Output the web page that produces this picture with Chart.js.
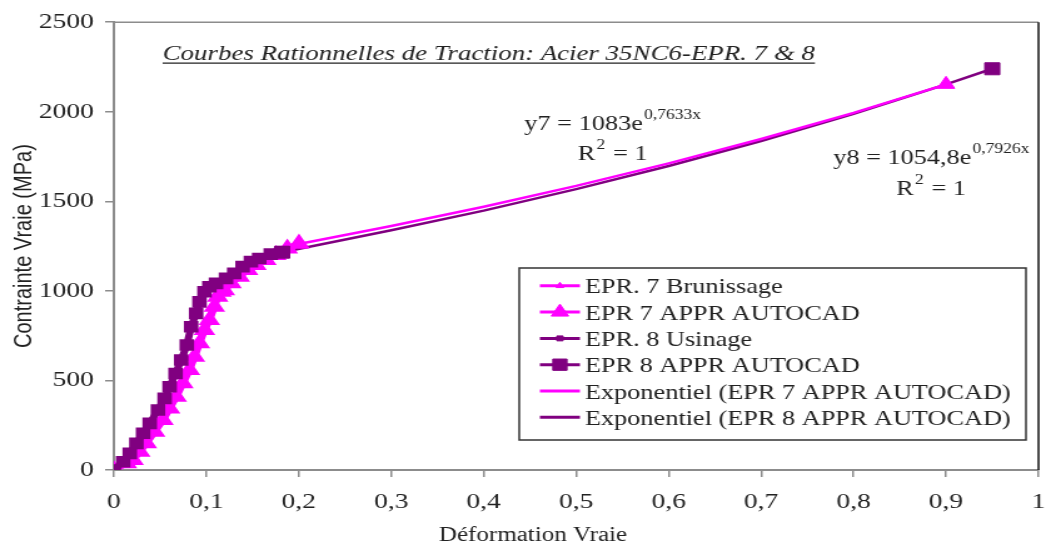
<!DOCTYPE html>
<html>
<head>
<meta charset="utf-8">
<script src="https://cdn.jsdelivr.net/npm/chart.js@4.4.0/dist/chart.umd.min.js"></script>
<style>
  html, body { margin: 0; padding: 0; background: #fff; }
  #chart { display: block; }
</style>
</head>
<body>
<canvas id="chart" width="840" height="546"></canvas>
<script>
// EPR. 7 Brunissage (measured curve)
const epr7Strain = [0, 0.0136, 0.0208, 0.028, 0.0352, 0.0441, 0.0531, 0.0603, 0.0675, 0.0746, 0.0818, 0.0872, 0.0926,
  0.098, 0.1033, 0.1087, 0.1123, 0.1159, 0.1195, 0.1267, 0.1356, 0.1446, 0.1536, 0.1644, 0.1751, 0.1876, 0.2002];
const epr7Stress = [0, 37, 56, 102, 149, 214, 279, 344, 409, 484, 558, 632, 707,
  781, 837, 911, 967, 995, 1004, 1042, 1079, 1116, 1144, 1172, 1200, 1237, 1265];

// EPR. 8 Usinage (measured curve)
const epr8Strain = [0, 0.010, 0.0172, 0.0244, 0.0316, 0.0388, 0.0477, 0.0549, 0.0603, 0.0667, 0.0728, 0.0789, 0.0836,
  0.089, 0.0926, 0.098, 0.1033, 0.1105, 0.1213, 0.1302, 0.1392, 0.1482, 0.1572, 0.1697, 0.1823];
const epr8Stress = [0, 46, 93, 149, 205, 260, 335, 400, 465, 539, 614, 698, 800,
  874, 939, 995, 1023, 1042, 1070, 1098, 1135, 1163, 1181, 1205, 1218];

// APPR AUTOCAD points
const appr7Strain = [0.2, 0.9];
const appr7Stress = [1262, 2153];
const appr8Strain = [0.182, 0.95];
const appr8Stress = [1216, 2240];

// exponential trend lines
const fit7Strain = [0.2, 0.3, 0.4, 0.5, 0.6, 0.7, 0.8, 0.9];
const fit7Stress = [1262, 1362, 1470, 1586, 1712, 1848, 1994, 2153];
const fit8Strain = [0.182, 0.3, 0.4, 0.5, 0.6, 0.7, 0.8, 0.9, 0.95];
const fit8Stress = [1216, 1338, 1448, 1568, 1697, 1837, 1989, 2153, 2240];

const seriesNames = ['EPR. 7 Brunissage', 'EPR 7 APPR AUTOCAD', 'EPR. 8 Usinage', 'EPR 8 APPR AUTOCAD',
  'Exponentiel (EPR 7 APPR AUTOCAD)', 'Exponentiel (EPR 8 APPR AUTOCAD)'];

const MAGENTA = '#ff00ff';
const PURPLE = '#800080';
const SERIF = "'Liberation Serif', 'Times New Roman', serif";
const TEXT = '#222';

function pts(xs, ys) {
  return xs.map((x, i) => ({ x: x, y: ys[i] }));
}

// legend markers: [color, pointStyle, radius]
const legendStyle = [
  [MAGENTA, 'triangle', 3.5],
  [MAGENTA, 'triangle', 8],
  [PURPLE, 'rect', 3.5],
  [PURPLE, 'rect', 8],
  [MAGENTA, false, 0],
  [PURPLE, false, 0]
];

function drawEq(ctx, x, y, main, sup, tail) {
  ctx.font = '21px ' + SERIF;
  ctx.fillText(main, x, y);
  let w = ctx.measureText(main).width;
  ctx.font = '14px ' + SERIF;
  ctx.fillText(sup, x + w + 1, y - 11);
  if (tail) {
    w += ctx.measureText(sup).width + 2;
    ctx.font = '21px ' + SERIF;
    ctx.fillText(tail, x + w, y);
  }
}

const extras = {
  id: 'extras',
  afterDraw(chart) {
    const { ctx, chartArea: a, scales: { x, y } } = chart;
    ctx.save();

    // frame: top grey, right dark
    ctx.lineWidth = 1.5;
    ctx.strokeStyle = '#8c8c8c';
    ctx.beginPath();
    ctx.moveTo(a.left, a.top);
    ctx.lineTo(a.right, a.top);
    ctx.stroke();
    ctx.strokeStyle = '#111';
    ctx.beginPath();
    ctx.moveTo(a.right, a.top);
    ctx.lineTo(a.right, a.bottom);
    ctx.stroke();

    ctx.fillStyle = TEXT;
    ctx.textBaseline = 'alphabetic';
    ctx.textAlign = 'left';

    // title, italic + underlined
    const title = 'Courbes Rationnelles de Traction: Acier 35NC6-EPR. 7 & 8';
    ctx.font = 'italic 21.5px ' + SERIF;
    const tx = a.left + 39, ty = a.top + 38;
    ctx.fillText(title, tx, ty);
    const tw = ctx.measureText(title).width;
    ctx.strokeStyle = TEXT;
    ctx.lineWidth = 1.2;
    ctx.beginPath();
    ctx.moveTo(tx, ty + 3);
    ctx.lineTo(tx + tw, ty + 3);
    ctx.stroke();

    // trend line equations
    drawEq(ctx, x.getPixelForValue(0.444), y.getPixelForValue(1897), 'y7 = 1083e', '0,7633x');
    drawEq(ctx, x.getPixelForValue(0.5016), y.getPixelForValue(1730), 'R', '2', ' = 1');
    drawEq(ctx, x.getPixelForValue(0.778), y.getPixelForValue(1711), 'y8 = 1054,8e', '0,7926x');
    drawEq(ctx, x.getPixelForValue(0.846), y.getPixelForValue(1535), 'R', '2', ' = 1');

    // x axis title
    ctx.font = '20px ' + SERIF;
    ctx.textAlign = 'center';
    ctx.fillText('Déformation Vraie', 426, 541);

    // legend box
    const lx = 415, ly = 268, lw = 405, lh = 172;
    ctx.fillStyle = '#fff';
    ctx.fillRect(lx, ly, lw, lh);
    ctx.strokeStyle = '#333';
    ctx.lineWidth = 1.5;
    ctx.strokeRect(lx, ly, lw, lh);
    ctx.textAlign = 'left';
    ctx.font = '21px ' + SERIF;
    seriesNames.forEach((name, i) => {
      const [col, style, r] = legendStyle[i];
      const base = 293.3 + i * 26.3;
      const my = base - 7.5;
      ctx.strokeStyle = col;
      ctx.lineWidth = 3;
      ctx.beginPath();
      ctx.moveTo(431.5, my);
      ctx.lineTo(463.5, my);
      ctx.stroke();
      if (style) {
        ctx.fillStyle = col;
        ctx.strokeStyle = col;
        ctx.lineWidth = 1;
        Chart.helpers.drawPoint(ctx, { pointStyle: style, radius: r, rotation: 0, borderWidth: 1 }, 447.5, my);
      }
      ctx.fillStyle = TEXT;
      ctx.fillText(name, 467.5, base);
    });

    ctx.restore();
  }
};

const ctx = document.getElementById('chart').getContext('2d');
const chart = new Chart(ctx, {
  type: 'line',
  data: {
    datasets: [
      {
        label: seriesNames[0], data: pts(epr7Strain, epr7Stress),
        borderColor: MAGENTA, backgroundColor: MAGENTA, borderWidth: 6,
        pointStyle: 'triangle', pointRadius: 4, order: 4
      },
      {
        label: seriesNames[1], data: pts(appr7Strain, appr7Stress),
        borderColor: MAGENTA, backgroundColor: MAGENTA, showLine: false,
        pointStyle: 'triangle', pointRadius: 8, order: 1
      },
      {
        label: seriesNames[2], data: pts(epr8Strain, epr8Stress),
        borderColor: PURPLE, backgroundColor: PURPLE, borderWidth: 6,
        pointStyle: 'rect', pointRadius: 4, order: 3
      },
      {
        label: seriesNames[3], data: pts(appr8Strain, appr8Stress),
        borderColor: PURPLE, backgroundColor: PURPLE, showLine: false,
        pointStyle: 'rect', pointRadius: 8.5, order: 0
      },
      {
        label: seriesNames[4], data: pts(fit7Strain, fit7Stress),
        borderColor: MAGENTA, borderWidth: 2.5, pointRadius: 0, order: 5
      },
      {
        label: seriesNames[5], data: pts(fit8Strain, fit8Stress),
        borderColor: PURPLE, borderWidth: 2.5, pointRadius: 0, order: 6
      }
    ]
  },
  options: {
    responsive: false,
    animation: false,
    devicePixelRatio: 1,
    layout: { padding: { top: 22, right: 6, left: 0, bottom: 0 } },
    plugins: {
      legend: { display: false },
      tooltip: { enabled: false }
    },
    scales: {
      x: {
        type: 'linear',
        min: 0,
        max: 1,
        afterFit: (s) => { s.height = 76; s.paddingLeft = 0; s.paddingRight = 0; },
        ticks: {
          stepSize: 0.1,
          padding: 12,
          color: TEXT,
          font: { family: SERIF, size: 22 },
          callback: (v) => (v === 0 || v === 1) ? String(v) : v.toFixed(1).replace('.', ',')
        },
        grid: { drawOnChartArea: false, tickLength: 7, color: '#8c8c8c', lineWidth: 1.5 },
        border: { color: '#8c8c8c', width: 2 }
      },
      y: {
        min: 0,
        max: 2500,
        afterFit: (s) => { s.width = 91; },
        ticks: {
          stepSize: 500,
          padding: 9,
          color: TEXT,
          font: { family: SERIF, size: 22 },
          callback: (v) => String(v)
        },
        grid: { drawOnChartArea: false, tickLength: 7, color: '#8c8c8c', lineWidth: 1.5 },
        border: { color: '#8c8c8c', width: 2 },
        title: {
          display: true,
          text: 'Contrainte Vraie (MPa)',
          color: TEXT,
          font: { family: "'Liberation Sans', Arial, sans-serif", size: 20 },
          padding: { top: 7, bottom: 0 }
        }
      }
    }
  },
  plugins: [extras]
});

// the source picture is stretched sideways: draw narrow, show wide
chart.canvas.style.width = '1051px';
chart.canvas.style.height = '546px';
</script>
</body>
</html>
